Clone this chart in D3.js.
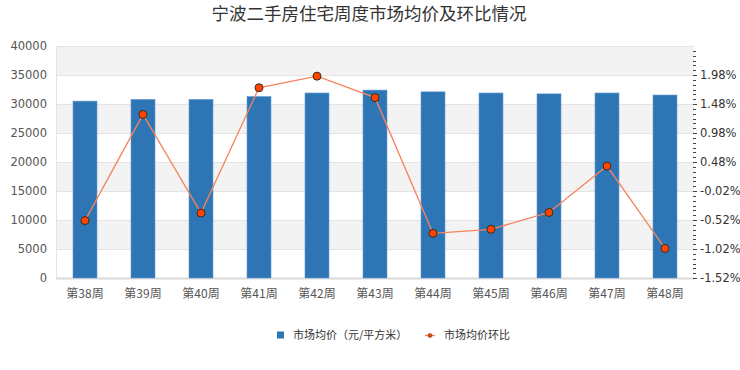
<!DOCTYPE html>
<html>
<head>
<meta charset="utf-8">
<script src="https://cdn.jsdelivr.net/npm/d3@7"></script>
<style>
  body { margin: 0; background: #fff; }
  text { font-family: "Noto Sans CJK SC", "Noto Sans", sans-serif; }
</style>
</head>
<body>
<svg id="chart" width="740" height="370"></svg>
<script>
// data
var weeks = ['第38周', '第39周', '第40周', '第41周', '第42周', '第43周',
             '第44周', '第45周', '第46周', '第47周', '第48周'];
var avgPrice = [30500, 30800, 30800, 31300, 31900, 32400, 32100, 31900, 31750, 31900, 31550];
var momChange = [-0.53, 1.30, -0.40, 1.76, 1.96, 1.59, -0.75, -0.68, -0.39, 0.41, -1.01];
var leftTicks = [0, 5000, 10000, 15000, 20000, 25000, 30000, 35000, 40000];
var rightTicks = [-1.52, -1.02, -0.52, -0.02, 0.48, 0.98, 1.48, 1.98];

var plot = { left: 56, right: 694, top: 46, bottom: 278 };
var svg = d3.select('#chart');

var x = d3.scaleBand()
    .domain(weeks)
    .range([plot.left, plot.right])
    .paddingInner(0.586)
    .paddingOuter(0.293);

var yLeft = d3.scaleLinear().domain([0, 40000]).range([plot.bottom, plot.top]);
var yRight = d3.scaleLinear().domain([-1.52, 2.48]).range([plot.bottom, plot.top]);

// title
svg.append('text')
    .attr('x', 369)
    .attr('y', 20)
    .attr('text-anchor', 'middle')
    .style('font-size', '17.5px')
    .style('fill', '#333')
    .text('宁波二手房住宅周度市场均价及环比情况');

// alternating bands
svg.append('g')
    .selectAll('rect.band')
    .data(d3.range(0, leftTicks.length - 1).filter(i => i % 2 === 1))
    .enter().append('rect')
        .attr('class', 'band')
        .attr('x', plot.left)
        .attr('width', plot.right - plot.left)
        .attr('y', i => yLeft(leftTicks[i + 1]))
        .attr('height', i => yLeft(leftTicks[i]) - yLeft(leftTicks[i + 1]))
        .attr('fill', '#f3f3f3');

// grid lines
svg.append('g')
    .selectAll('line.grid')
    .data(leftTicks)
    .enter().append('line')
        .attr('class', 'grid')
        .attr('x1', plot.left)
        .attr('x2', plot.right)
        .attr('y1', d => Math.round(yLeft(d)) + 0.5)
        .attr('y2', d => Math.round(yLeft(d)) + 0.5)
        .attr('stroke', d => d === 0 ? '#d9d9d9' : '#e4e4e4')
        .attr('stroke-width', d => d === 0 ? 2 : 1);

svg.append('line')
    .attr('x1', plot.left + 0.5).attr('x2', plot.left + 0.5)
    .attr('y1', plot.top).attr('y2', plot.bottom)
    .attr('stroke', '#e4e4e4');

// left axis
var leftAxis = d3.axisLeft(yLeft)
    .tickValues(leftTicks)
    .tickFormat(d3.format('d'))
    .tickSize(0)
    .tickPadding(9);
var gl = svg.append('g')
    .attr('transform', 'translate(' + plot.left + ',0)')
    .call(leftAxis);
gl.select('.domain').remove();
gl.selectAll('text').style('font-size', '11.5px').style('fill', '#555').style('font-family', '"DejaVu Sans", sans-serif');

// right axis: major + minor ticks
var minorTicks = [];
rightTicks.concat([2.48]).forEach((t, i, arr) => {
    if (i < arr.length - 1) {
        for (var k = 1; k < 6; k++) minorTicks.push(t + k * 0.5 / 6);
    }
});
svg.append('g')
    .selectAll('line.minor')
    .data(minorTicks)
    .enter().append('line')
        .attr('class', 'minor')
        .attr('x1', plot.right - 1).attr('x2', plot.right + 2)
        .attr('y1', d => Math.round(yRight(d)) + 0.5)
        .attr('y2', d => Math.round(yRight(d)) + 0.5)
        .attr('stroke', '#444');

var rightAxis = d3.axisRight(yRight)
    .tickValues(rightTicks)
    .tickSize(4)
    .tickPadding(3)
    .tickFormat(d => d.toFixed(2) + '%');
var gr = svg.append('g')
    .attr('transform', 'translate(' + (plot.right - 1) + ',0)')
    .call(rightAxis);
gr.select('.domain').remove();
gr.selectAll('line').attr('stroke', '#444');
gr.selectAll('text').style('font-size', '11.5px').style('fill', '#333').style('font-family', '"DejaVu Sans", sans-serif');

// bars
svg.append('g')
    .selectAll('rect.bar')
    .data(weeks)
    .enter().append('rect')
        .attr('class', 'bar')
        .attr('x', d => x(d))
        .attr('width', x.bandwidth())
        .attr('y', (d, i) => yLeft(avgPrice[i]))
        .attr('height', (d, i) => plot.bottom - yLeft(avgPrice[i]))
        .attr('fill', '#2e75b6')
        .attr('stroke', '#6d9fd0')
        .attr('stroke-width', 0.6);

// x labels
svg.append('g')
    .selectAll('text.xlab')
    .data(weeks)
    .enter().append('text')
        .attr('class', 'xlab')
        .attr('x', d => x(d) + x.bandwidth() / 2)
        .attr('y', 298)
        .attr('text-anchor', 'middle')
        .style('font-size', '12px')
        .style('fill', '#555')
        .text(d => d);

// line
var line = d3.line()
    .x((d, i) => x(weeks[i]) + x.bandwidth() / 2)
    .y(d => yRight(d));

svg.append('path')
    .datum(momChange)
    .attr('d', line)
    .attr('fill', 'none')
    .attr('stroke', '#f7845e')
    .attr('stroke-width', 1.3);

svg.append('g')
    .selectAll('circle.pt')
    .data(momChange)
    .enter().append('circle')
        .attr('class', 'pt')
        .attr('cx', (d, i) => x(weeks[i]) + x.bandwidth() / 2)
        .attr('cy', d => yRight(d))
        .attr('r', 4)
        .attr('fill', '#ff4500')
        .attr('stroke', '#3a2a20')
        .attr('stroke-width', 1);

// legend
var legend = svg.append('g').attr('transform', 'translate(0,335)');
legend.append('rect')
    .attr('x', 277).attr('y', -3.5)
    .attr('width', 7).attr('height', 7)
    .attr('fill', '#2e75b6');
legend.append('text')
    .attr('x', 293).attr('y', 4)
    .style('font-size', '11px').style('fill', '#333')
    .text('市场均价（元/平方米）');
legend.append('line')
    .attr('x1', 425).attr('x2', 435)
    .attr('y1', 0.5).attr('y2', 0.5)
    .attr('stroke', '#f7845e').attr('stroke-width', 1.3);
legend.append('circle')
    .attr('cx', 430).attr('cy', 0.5).attr('r', 2)
    .attr('fill', '#ff4500').attr('stroke', '#3a2a20').attr('stroke-width', 0.5);
legend.append('text')
    .attr('x', 444).attr('y', 4)
    .style('font-size', '11px').style('fill', '#333')
    .text('市场均价环比');
</script>
</body>
</html>
